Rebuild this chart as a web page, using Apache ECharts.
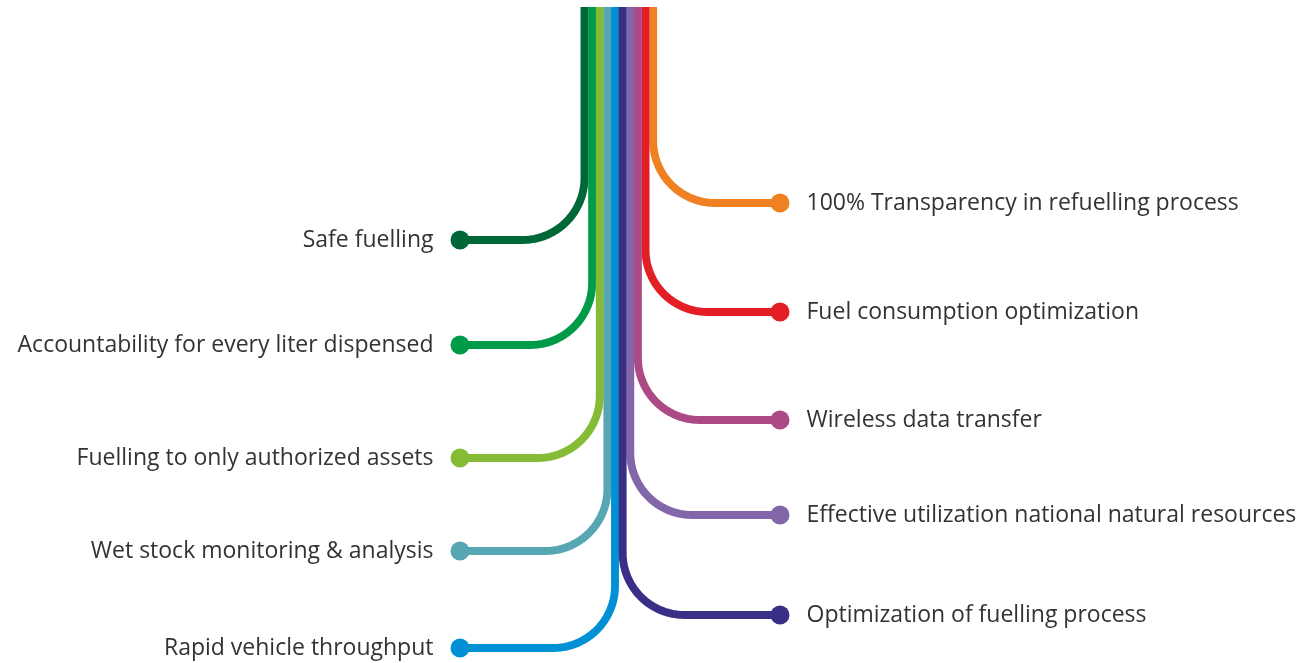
<!DOCTYPE html>
<html>
<head>
<meta charset="utf-8">
<script src="https://cdn.jsdelivr.net/npm/echarts@6/dist/echarts.min.js"></script>
<style>
html,body{margin:0;padding:0;background:#fff;}
#c{width:1303px;height:663px;}
</style>
</head>
<body>
<div id="c"></div>
<script>
// Left-side benefits (top to bottom), row levels and colours
var leftLabels = ['Safe fuelling', 'Accountability for every liter dispensed', 'Fuelling to only authorized assets', 'Wet stock monitoring & analysis', 'Rapid vehicle throughput'];
var leftRows = [240, 345, 458, 551, 648];
var leftColors = ['#006837', '#009B48', '#86BC35', '#57A6B4', '#0091D5'];

// Right-side benefits (top to bottom), row levels and colours
var rightLabels = ['100% Transparency in refuelling process', 'Fuel consumption optimization', 'Wireless data transfer', 'Effective utilization national natural resources', 'Optimization of fuelling process'];
var rightRows = [203, 312, 420, 515, 615];
var rightColors = ['#F08122', '#E31E25', '#AC4A86', '#8366A9', '#3A2F86'];

// layout (pixels in the plot space)
var W = 1303, H = 663;
var trunkTop = 7;
var trunkLeft = 584.5;   // centre of first strip
var strip = 7.63;        // strip spacing
var radius = 62;
var leftDotX = 460, rightDotX = 780;
var lineW = 7.9;

function arcPath(tx, by, side) {
  // side: -1 = branch to left, +1 = branch to right
  var pts = [[tx, trunkTop], [tx, by - radius]];
  var cx = tx + side * radius, cy = by - radius;
  var n = 24;
  for (var k = 1; k <= n; k++) {
    var t = (Math.PI / 2) * k / n;
    pts.push([cx - side * radius * Math.cos(t), cy + radius * Math.sin(t)]);
  }
  pts.push([side < 0 ? leftDotX : rightDotX, by]);
  return pts;
}

var labelStyle = { color: '#333333', fontSize: 23, fontFamily: 'Open Sans' };

var series = [];
leftLabels.forEach(function (name, i) {
  var tx = trunkLeft + i * strip;
  series.push({
    type: 'line', name: name, data: arcPath(tx, leftRows[i], -1),
    showSymbol: false, symbol: 'none', silent: true, z: 2,
    lineStyle: { color: leftColors[i], width: lineW, cap: 'butt', join: 'round' }
  });
  series.push({
    type: 'scatter', data: [[leftDotX, leftRows[i]]], symbolSize: 19, z: 3, silent: true,
    itemStyle: { color: leftColors[i], opacity: 1 },
    label: Object.assign({ show: true, position: 'left', distance: 17, formatter: name }, labelStyle)
  });
});
rightLabels.forEach(function (name, i) {
  var tx = trunkLeft + (9 - i) * strip;
  series.push({
    type: 'line', name: name, data: arcPath(tx, rightRows[i], 1),
    showSymbol: false, symbol: 'none', silent: true, z: 2,
    lineStyle: { color: rightColors[i], width: lineW, cap: 'butt', join: 'round' }
  });
  series.push({
    type: 'scatter', data: [[rightDotX, rightRows[i]]], symbolSize: 19, z: 3, silent: true,
    itemStyle: { color: rightColors[i], opacity: 1 },
    label: Object.assign({ show: true, position: 'right', distance: 17, formatter: name }, labelStyle)
  });
});

var chart = echarts.init(document.getElementById('c'));
chart.setOption({
  animation: false,
  backgroundColor: '#fff',
  grid: { left: 0, right: 0, top: 0, bottom: 0 },
  xAxis: { type: 'value', min: 0, max: W, show: false },
  yAxis: { type: 'value', min: 0, max: H, inverse: true, show: false },
  series: series
});
</script>
</body>
</html>
